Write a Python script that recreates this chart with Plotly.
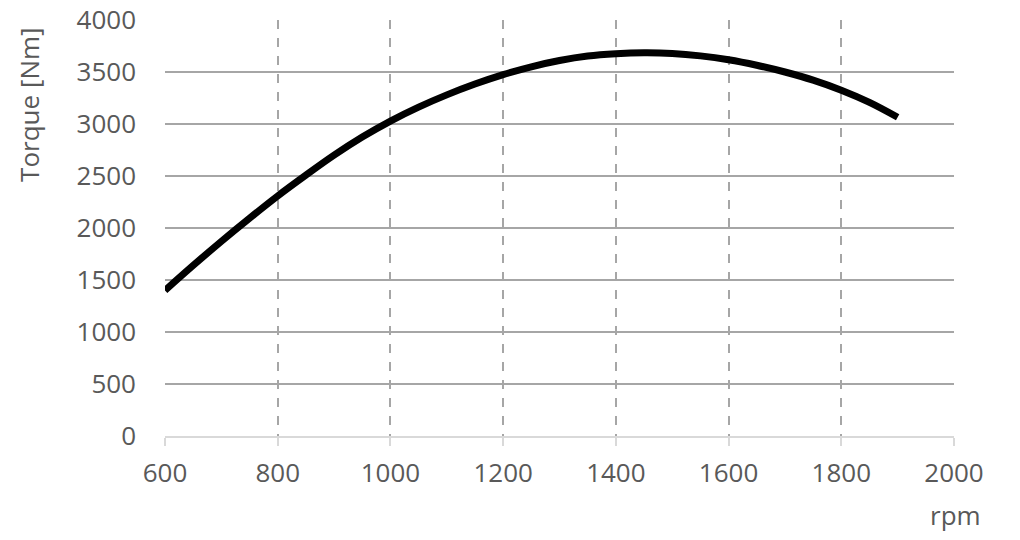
import plotly.graph_objects as go

rpm = [600, 650, 700, 750, 800, 850, 900, 950, 1000, 1050, 1100, 1150, 1200, 1250,
       1300, 1350, 1400, 1450, 1500, 1550, 1600, 1650, 1700, 1750, 1800, 1850, 1900]
torque = [1400, 1640, 1872, 2094, 2308, 2508, 2700, 2874, 3028, 3162, 3280, 3384, 3475, 3550,
          3610, 3653, 3675, 3684, 3678, 3655, 3618, 3565, 3500, 3422, 3325, 3208, 3065]

x_ticks = [600, 800, 1000, 1200, 1400, 1600, 1800, 2000]
y_ticks = [0, 500, 1000, 1500, 2000, 2500, 3000, 3500, 4000]

font_family = "Open Sans"
label_color = "#595959"
fs = 26

fig = go.Figure()
fig.add_trace(go.Scatter(
    x=rpm, y=torque, mode="lines",
    line=dict(color="black", width=7, shape="spline", smoothing=1),
    showlegend=False, hoverinfo="skip",
))

fig.update_layout(
    width=1020, height=540,
    margin=dict(l=165, r=66, t=20, b=104, autoexpand=False),
    paper_bgcolor="white", plot_bgcolor="white",
    font=dict(family=font_family, size=fs, color=label_color),
    xaxis=dict(
        range=[600, 2000], tickvals=x_ticks, ticktext=[str(v) for v in x_ticks],
        showgrid=True, gridcolor="#A6A6A6", gridwidth=2, griddash="dash",
        zeroline=False, showline=True, linecolor="#D9D9D9", linewidth=2,
        ticks="outside", ticklen=8, tickwidth=2, tickcolor="#D9D9D9",
        ticklabelstandoff=5, automargin=False,
        tickfont=dict(family=font_family, size=fs, color=label_color),
    ),
    yaxis=dict(
        range=[0, 4000], tickvals=y_ticks, ticktext=[str(v) for v in y_ticks],
        showgrid=True, gridcolor="#A6A6A6", gridwidth=2,
        zeroline=False, showline=False, ticks="", ticklabelstandoff=28, automargin=False,
        tickfont=dict(family=font_family, size=fs, color=label_color),
    ),
    annotations=[
        dict(
            text="rpm", xref="paper", yref="paper", x=1.0, y=0, xanchor="center", yanchor="middle",
            yshift=-79, xshift=1, showarrow=False,
            font=dict(family=font_family, size=fs, color=label_color),
        ),
        dict(
            text="Torque [Nm]", xref="paper", yref="paper", x=-0.1718, y=0.797,
            xanchor="center", yanchor="middle", textangle=-90, showarrow=False,
            font=dict(family=font_family, size=fs, color=label_color),
        ),
    ],
)

fig.write_html("out.html", config={"displayModeBar": False},
               post_script="document.body.style.margin='0';")
